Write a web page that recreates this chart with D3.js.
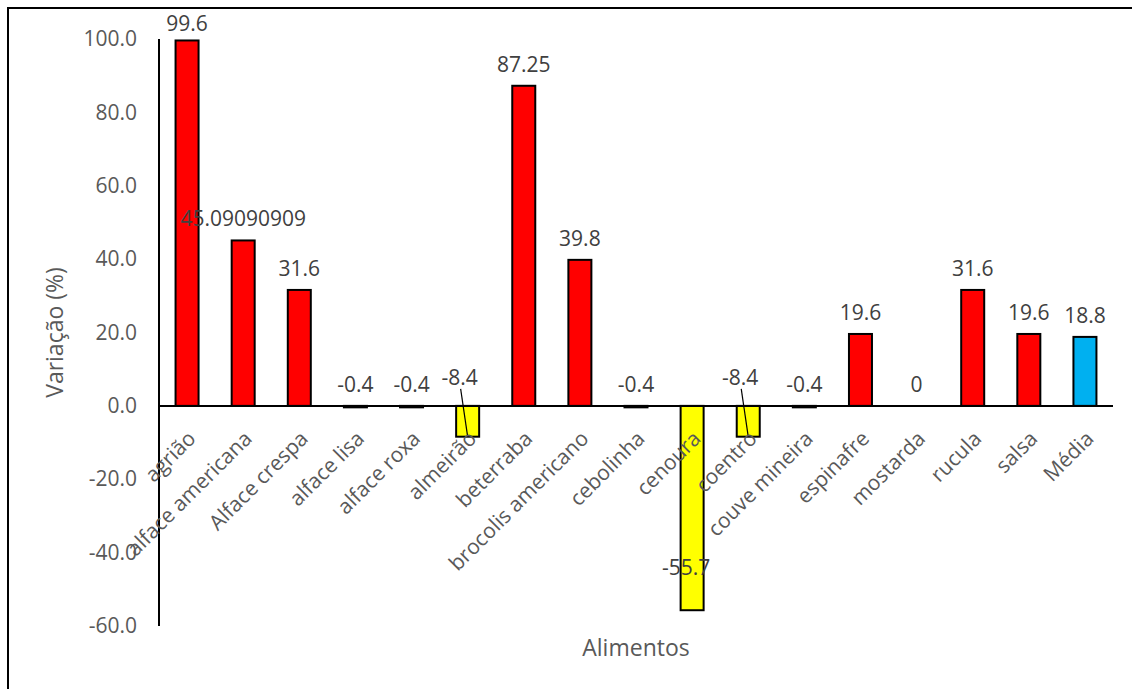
<!DOCTYPE html>
<html><head><meta charset="utf-8">
<script src="https://cdn.jsdelivr.net/npm/d3@7"></script>
<style>html,body{margin:0;padding:0;background:#fff;}svg{display:block;}</style>
</head><body>
<script>
const categories = ["agrião","alface americana","Alface crespa","alface lisa","alface roxa","almeirão","beterraba","brocolis americano","cebolinha","cenoura","coentro","couve mineira","espinafre","mostarda","rucula","salsa","Média"];
const values = [99.6, 45.09090909, 31.6, -0.4, -0.4, -8.4, 87.25, 39.8, -0.4, -55.7, -8.4, -0.4, 19.6, 0, 31.6, 19.6, 18.8];
const labels = ["99.6","45.09090909","31.6","-0.4","-0.4","-8.4","87.25","39.8","-0.4","-55.7","-8.4","-0.4","19.6","0","31.6","19.6","18.8"];
const yTicks = [-60, -40, -20, 0, 20, 40, 60, 80, 100];
const yTitle = "Variação (%)";
const xTitle = "Alimentos";

const W = 1132, H = 689;
const font = "'Open Sans', 'Noto Sans', sans-serif";
const svg = d3.select("body").append("svg").attr("width", W).attr("height", H);

svg.append("rect").attr("x", 8).attr("y", 8).attr("width", 1140).attr("height", 700)
  .attr("fill", "#fff").attr("stroke", "#000").attr("stroke-width", 2);

const x = d3.scaleBand().domain(categories).range([159, 1113]).paddingInner(0.59).paddingOuter(0.295);
const y = d3.scaleLinear().domain([-60, 100]).range([626, 39]);

function colorOf(d, i) {
  if (categories[i] === "Média") return "#00B0F0";
  return d < -1 ? "#FFFF00" : "#FF0000";
}

// y tick labels
const yAxis = d3.axisLeft(y).tickValues(yTicks).tickFormat(d => d.toFixed(1)).tickSize(0).tickPadding(22);
const gy = svg.append("g").attr("transform", "translate(159,0)").call(yAxis);
gy.select(".domain").remove();
gy.selectAll("text").attr("fill", "#595959").style("font-family", font).style("font-size", "21px");

// bars
const data = categories.map((c, i) => ({c, v: values[i], l: labels[i], i}));
svg.append("g").selectAll("rect").data(data).join("rect")
  .attr("x", d => x(d.c))
  .attr("width", x.bandwidth())
  .attr("y", d => y(Math.max(0, d.v)))
  .attr("height", d => Math.abs(y(d.v) - y(0)))
  .attr("fill", d => colorOf(d.v, d.i))
  .attr("stroke", d => d.v === 0 ? "none" : "#000")
  .attr("stroke-width", 2);

// axes lines
svg.append("line").attr("x1", 159).attr("x2", 159).attr("y1", y(100)).attr("y2", y(-60)).attr("stroke", "#000").attr("stroke-width", 2);
svg.append("line").attr("x1", 159).attr("x2", 1113).attr("y1", y(0)).attr("y2", y(0)).attr("stroke", "#000").attr("stroke-width", 2);

// data labels
const lg = svg.append("g").style("font-family", font).style("font-size", "21px").attr("fill", "#404040");
data.forEach(d => {
  const cx = x(d.c) + x.bandwidth() / 2;
  let tx = cx, ty;
  if (d.v >= -1) {
    ty = Math.max(y(Math.max(d.v, 0)) - 14, 31);
  } else if (d.v > -20) {
    tx = cx - 8;
    ty = y(0) - 21;
    svg.append("line").attr("x1", cx - 7).attr("y1", y(0) - 17).attr("x2", cx).attr("y2", y(d.v))
      .attr("stroke", "#000").attr("stroke-width", 1.2);
  } else {
    tx = cx - 6;
    ty = y(d.v) - 35;
  }
  lg.append("text").attr("x", tx).attr("y", ty).attr("text-anchor", "middle").text(d.l);
});

// category labels
const cg = svg.append("g").style("font-family", font).style("font-size", "21px").attr("fill", "#595959");
categories.forEach(c => {
  const cx = x(c) + x.bandwidth() / 2;
  cg.append("text").attr("text-anchor", "end")
    .attr("transform", `translate(${cx + 10},${y(0) + 34}) rotate(-45)`)
    .text(c);
});

// titles
svg.append("text").attr("text-anchor", "middle")
  .attr("transform", `translate(63,${(y(100) + y(-60)) / 2}) rotate(-90)`)
  .style("font-family", font).style("font-size", "23px").attr("fill", "#595959").text(yTitle);
svg.append("text").attr("text-anchor", "middle").attr("x", (159 + 1113) / 2).attr("y", 656)
  .style("font-family", font).style("font-size", "23px").attr("fill", "#595959").text(xTitle);
</script>
</body></html>
